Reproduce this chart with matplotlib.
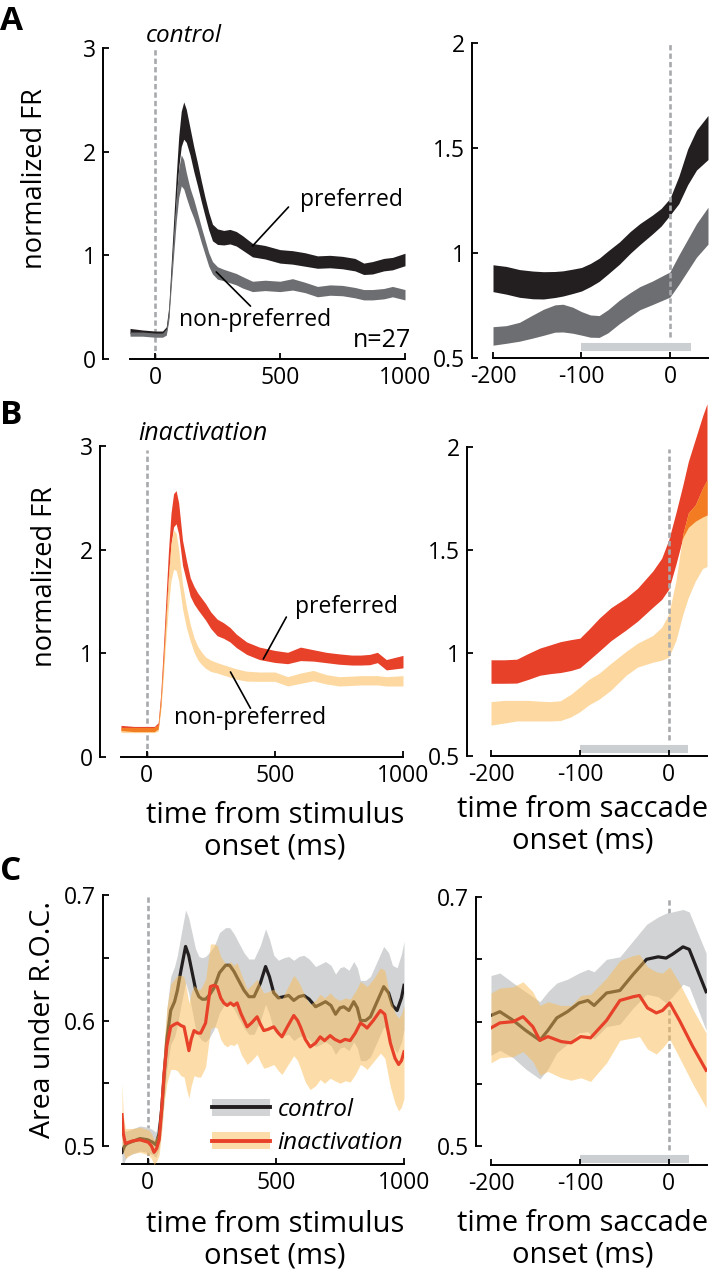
import numpy as np
import matplotlib
matplotlib.use('Agg')
import matplotlib.pyplot as plt
from matplotlib.patches import Patch
from matplotlib.lines import Line2D

plt.rcParams['font.family'] = ['Open Sans', 'DejaVu Sans']

# ---------------- data ----------------
# Panel A, aligned to stimulus onset (control)
tA = [-100, -50, 0, 30, 45, 55, 65, 75, 85, 95, 105, 115, 125, 140, 155, 170, 185, 200, 215, 230,
      250, 275, 300, 325, 350, 390, 440, 500, 550, 600, 650, 700, 750, 800, 835, 870, 915, 950, 1000]
prefA_mean = [0.27, 0.26, 0.25, 0.25, 0.28, 0.45, 0.85, 1.25, 1.65, 2.0, 2.22, 2.3, 2.25, 2.1, 1.93, 1.78, 1.62, 1.47, 1.33, 1.22,
              1.18, 1.17, 1.18, 1.16, 1.12, 1.05, 1.03, 0.99, 0.98, 0.96, 0.935, 0.94, 0.93, 0.91, 0.87, 0.88, 0.91, 0.92, 0.96]
prefA_hw = [0.025, 0.02, 0.02, 0.02, 0.03, 0.05, 0.08, 0.1, 0.12, 0.15, 0.17, 0.18, 0.16, 0.13, 0.12, 0.11, 0.1, 0.09, 0.085, 0.08,
            0.075, 0.07, 0.07, 0.07, 0.07, 0.065, 0.065, 0.065, 0.065, 0.065, 0.06, 0.06, 0.06, 0.06, 0.055, 0.06, 0.06, 0.06, 0.06]
nonprefA_mean = [0.24, 0.24, 0.23, 0.23, 0.26, 0.42, 0.78, 1.12, 1.45, 1.7, 1.82, 1.78, 1.68, 1.55, 1.45, 1.33, 1.2, 1.08, 0.96, 0.88,
                 0.83, 0.81, 0.79, 0.77, 0.74, 0.70, 0.71, 0.70, 0.72, 0.69, 0.65, 0.665, 0.66, 0.64, 0.62, 0.62, 0.63, 0.65, 0.62]
nonprefA_hw = [0.02, 0.02, 0.02, 0.02, 0.03, 0.05, 0.08, 0.1, 0.12, 0.14, 0.15, 0.14, 0.12, 0.1, 0.09, 0.08, 0.075, 0.07, 0.065, 0.06,
               0.06, 0.055, 0.055, 0.055, 0.055, 0.05, 0.05, 0.05, 0.055, 0.05, 0.05, 0.05, 0.05, 0.05, 0.05, 0.05, 0.05, 0.05, 0.05]

# Panel A, aligned to saccade onset (control)
tAR = [-200, -185, -170, -155, -143, -130, -121, -110, -100, -90, -80, -70, -57, -45, -34, -20, -10, 0, 10, 20, 30, 43]
prefAR_mean = [0.88, 0.87, 0.855, 0.848, 0.846, 0.85, 0.855, 0.865, 0.875, 0.895, 0.92, 0.955, 1.0, 1.05, 1.09, 1.135, 1.17, 1.22,
               1.3, 1.41, 1.49, 1.55]
prefAR_hw = [0.064, 0.066, 0.066, 0.066, 0.065, 0.062, 0.06, 0.058, 0.056, 0.055, 0.055, 0.055, 0.053, 0.052, 0.05, 0.045, 0.042, 0.04,
             0.065, 0.085, 0.095, 0.105]
nonprefAR_mean = [0.605, 0.612, 0.625, 0.65, 0.67, 0.688, 0.69, 0.68, 0.665, 0.652, 0.65, 0.675, 0.72, 0.755, 0.785, 0.81, 0.83, 0.85,
                  0.92, 0.99, 1.06, 1.13]
nonprefAR_hw = [0.044, 0.042, 0.045, 0.055, 0.062, 0.065, 0.066, 0.062, 0.056, 0.053, 0.052, 0.055, 0.056, 0.056, 0.055, 0.056, 0.058,
                0.06, 0.07, 0.075, 0.08, 0.088]

# Panel B, aligned to stimulus onset (inactivation)
tB = [-100, -50, 0, 30, 45, 55, 65, 75, 85, 95, 105, 115, 125, 140, 155, 170, 185, 200, 215, 230,
      250, 275, 300, 325, 350, 390, 440, 500, 550, 600, 650, 700, 750, 800, 835, 870, 900, 935, 1000]
prefB_mean = [0.28, 0.27, 0.27, 0.27, 0.3, 0.55, 0.95, 1.4, 1.85, 2.2, 2.38, 2.41, 2.3, 1.97, 1.8, 1.64, 1.56, 1.5, 1.45, 1.4,
              1.32, 1.25, 1.22, 1.18, 1.12, 1.05, 1.0, 0.97, 0.955, 0.995, 0.98, 0.96, 0.945, 0.935, 0.935, 0.94, 0.96, 0.89, 0.92]
prefB_hw = [0.025, 0.025, 0.025, 0.025, 0.03, 0.06, 0.09, 0.11, 0.13, 0.15, 0.16, 0.16, 0.15, 0.12, 0.1, 0.09, 0.085, 0.08, 0.08, 0.08,
            0.08, 0.08, 0.075, 0.07, 0.065, 0.06, 0.06, 0.058, 0.055, 0.065, 0.055, 0.05, 0.05, 0.048, 0.048, 0.05, 0.05, 0.05, 0.06]
nonprefB_mean = [0.26, 0.26, 0.26, 0.26, 0.28, 0.5, 0.85, 1.25, 1.6, 1.88, 2.0, 1.98, 1.85, 1.55, 1.35, 1.2, 1.08, 1.0, 0.95, 0.91,
                 0.88, 0.86, 0.84, 0.82, 0.8, 0.78, 0.775, 0.775, 0.73, 0.76, 0.785, 0.75, 0.73, 0.735, 0.74, 0.74, 0.74, 0.73, 0.735]
nonprefB_hw = [0.025, 0.025, 0.025, 0.025, 0.03, 0.06, 0.09, 0.12, 0.15, 0.18, 0.19, 0.18, 0.15, 0.12, 0.1, 0.08, 0.07, 0.065, 0.06, 0.055,
               0.055, 0.05, 0.05, 0.05, 0.05, 0.048, 0.045, 0.045, 0.045, 0.05, 0.05, 0.045, 0.045, 0.045, 0.045, 0.045, 0.045, 0.045, 0.05]

# Panel B, aligned to saccade onset (inactivation)
tBR = [-200, -185, -171, -158, -145, -133, -122, -110, -100, -90, -78, -65, -48, -35, -18, -8, 0, 8, 16, 22, 30, 38, 43]
prefBR_mean = [0.91, 0.91, 0.912, 0.935, 0.958, 0.97, 0.98, 0.99, 1.0, 1.04, 1.09, 1.14, 1.19, 1.235, 1.31, 1.36, 1.43, 1.555, 1.69,
               1.77, 1.84, 1.905, 1.94]
prefBR_hw = [0.057, 0.057, 0.058, 0.063, 0.066, 0.07, 0.075, 0.075, 0.072, 0.075, 0.08, 0.08, 0.078, 0.08, 0.088, 0.1, 0.12, 0.125,
             0.128, 0.16, 0.2, 0.245, 0.27]
nonprefBR_mean = [0.707, 0.715, 0.72, 0.72, 0.718, 0.717, 0.72, 0.745, 0.775, 0.81, 0.84, 0.885, 0.95, 0.99, 1.02, 1.045, 1.085,
                  1.205, 1.385, 1.475, 1.535, 1.605, 1.63]
nonprefBR_hw = [0.057, 0.055, 0.05, 0.05, 0.048, 0.047, 0.048, 0.055, 0.06, 0.062, 0.063, 0.065, 0.058, 0.058, 0.065, 0.08, 0.105,
                0.145, 0.195, 0.205, 0.185, 0.195, 0.21]

# Panel C, area under ROC, aligned to stimulus onset
tC_ctrl = [-100, -90, -80, -55, -30, 0, 20, 32, 45, 55, 64, 75, 90, 105, 116, 130, 148, 160, 174, 187,
           200, 213, 226, 240, 259, 280, 304, 320, 337, 355, 376, 395, 415, 440, 460, 475, 492, 510, 531, 550,
           570, 590, 609, 630, 655, 675, 694, 715, 733, 750, 765, 785, 804, 818, 830, 850, 869, 895, 921, 940,
           955, 973, 990, 1000]
ctrl_mean = [0.495, 0.5, 0.502, 0.504, 0.506, 0.505, 0.503, 0.501, 0.51, 0.53, 0.555, 0.585, 0.608, 0.615, 0.624, 0.64, 0.659, 0.652, 0.638, 0.625,
             0.619, 0.617, 0.617, 0.62, 0.626, 0.638, 0.644, 0.644, 0.639, 0.632, 0.624, 0.619, 0.619, 0.63, 0.643, 0.635, 0.622, 0.618, 0.619, 0.62,
             0.616, 0.619, 0.62, 0.617, 0.611, 0.613, 0.615, 0.612, 0.605, 0.61, 0.611, 0.608, 0.615, 0.61, 0.6, 0.6, 0.603, 0.615, 0.627, 0.622,
             0.612, 0.608, 0.618, 0.628]
ctrl_hw = [0.022, 0.012, 0.01, 0.01, 0.01, 0.01, 0.01, 0.01, 0.012, 0.016,
           0.02, 0.024, 0.027, 0.028, 0.028, 0.028, 0.029, 0.03, 0.031, 0.032,
           0.032, 0.033, 0.034, 0.034, 0.033, 0.032, 0.03, 0.03, 0.03, 0.03,
           0.03, 0.03, 0.03, 0.03, 0.03, 0.03, 0.03, 0.03, 0.031, 0.031,
           0.032, 0.032, 0.032, 0.032, 0.032, 0.032, 0.032, 0.032, 0.032, 0.032,
           0.032, 0.032, 0.032, 0.032, 0.032, 0.032, 0.032, 0.032, 0.032, 0.032,
           0.032, 0.034, 0.035, 0.035]
tC_inact = [-100, -95, -87, -60, -30, 3, 15, 25, 35, 45, 55, 64, 75, 90, 105, 116, 130, 142, 152, 161,
            170, 181, 195, 207, 226, 245, 258, 271, 285, 297, 310, 323, 336, 349, 365, 388, 405, 427, 440, 453,
            470, 492, 510, 524, 545, 570, 585, 596, 615, 634, 655, 673, 690, 712, 730, 751, 770, 790, 810, 830,
            845, 856, 880, 908, 925, 947, 965, 979, 990, 1000]
inact_mean = [0.525, 0.51, 0.502, 0.504, 0.505, 0.503, 0.5, 0.495, 0.498, 0.505,
              0.53, 0.558, 0.58, 0.595, 0.597, 0.598, 0.596, 0.595, 0.585, 0.576,
              0.585, 0.592, 0.59, 0.59, 0.598, 0.627, 0.628, 0.627, 0.618, 0.614,
              0.612, 0.614, 0.612, 0.614, 0.605, 0.595, 0.598, 0.603, 0.597, 0.592,
              0.593, 0.595, 0.59, 0.587, 0.595, 0.604, 0.6, 0.595, 0.585, 0.579,
              0.582, 0.587, 0.584, 0.588, 0.585, 0.583, 0.585, 0.584, 0.59, 0.598,
              0.596, 0.594, 0.6, 0.608, 0.605, 0.582, 0.57, 0.565, 0.568, 0.575]
inact_hw = [0.025, 0.015, 0.012, 0.01, 0.01, 0.01, 0.01, 0.01, 0.01, 0.012,
            0.018, 0.024, 0.03, 0.034, 0.036, 0.038, 0.04, 0.04, 0.04, 0.038,
            0.037, 0.036, 0.035, 0.035, 0.035, 0.034, 0.033, 0.033, 0.033, 0.033,
            0.033, 0.033, 0.032, 0.032, 0.032, 0.03, 0.03, 0.03, 0.03, 0.03,
            0.03, 0.03, 0.03, 0.03, 0.031, 0.032, 0.032, 0.033, 0.034, 0.034,
            0.034, 0.034, 0.034, 0.034, 0.033, 0.033, 0.033, 0.033, 0.033, 0.033,
            0.033, 0.033, 0.033, 0.034, 0.035, 0.035, 0.036, 0.037, 0.037, 0.037]

# Panel C, aligned to saccade onset
tCR_ctrl = [-200, -190, -175, -161, -145, -136, -126, -114, -101, -91, -84, -70, -55, -40, -25, -12, -3, 4, 16, 23, 42]
ctrlR_mean = [0.605, 0.608, 0.601, 0.593, 0.585, 0.593, 0.603, 0.608, 0.615, 0.617, 0.613, 0.623, 0.625, 0.638, 0.65, 0.652,
              0.651, 0.654, 0.66, 0.658, 0.624]
ctrlR_hw = [0.032, 0.031, 0.03, 0.031, 0.031, 0.031, 0.028, 0.026, 0.024, 0.025, 0.027, 0.027, 0.027, 0.027, 0.028, 0.032,
            0.036, 0.034, 0.03, 0.03, 0.031]
tCR_inact = [-200, -190, -175, -164, -153, -145, -136, -121, -110, -99, -88, -70, -55, -40, -33, -24, -14, -7, 1, 12, 27, 42]
inactR_mean = [0.595, 0.599, 0.6, 0.604, 0.596, 0.585, 0.588, 0.584, 0.583, 0.588, 0.587, 0.601, 0.617, 0.62, 0.621, 0.611,
               0.607, 0.609, 0.615, 0.601, 0.58, 0.561]
inactR_hw = [0.028, 0.028, 0.028, 0.028, 0.028, 0.028, 0.028, 0.029, 0.03, 0.033, 0.035, 0.034, 0.032, 0.033, 0.033, 0.033,
             0.033, 0.03, 0.029, 0.03, 0.03, 0.03]

# tick labels
stim_ticks = [0, 500, 1000]
stim_ticklabels = ['0', '500', '1000']
sacc_ticks = [-200, -100, 0]
sacc_ticklabels = ['-200', '-100', '0']
fr_stim_yticks = [0, 1, 2, 3]
fr_stim_ylabels = ['0', '1', '2', '3']
fr_sacc_yticks = [0.5, 1, 1.5, 2]
fr_sacc_ylabels = ['0.5', '1', '1.5', '2']
roc_yticks = [0.5, 0.55, 0.6, 0.65, 0.7]
roc_left_labels = ['0.5', '', '0.6', '', '0.7']
roc_right_labels = ['0.5', '', '', '', '0.7']

# ---------------- colours ----------------
C_PREF = '#231f20'
C_NONPREF = '#6d6e71'
C_IPREF = '#e8412a'
C_INONPREF = '#fdd9a1'
C_OVERLAP = '#f37b21'
C_DASH = '#a7a9ac'
C_BAR = '#cbcfd1'
C_CBAND = '#d1d3d4'
C_IBAND = '#fbbd55'
A_IBAND = 0.5

TICK_FS = 16.5
LABEL_FS = 21

W, H = 712, 1280
fig = plt.figure(figsize=(W / 100, H / 100), dpi=100)


def rect(x0, x1, ytop, ybot):
    return [x0 / W, 1 - ybot / H, (x1 - x0) / W, (ybot - ytop) / H]


def style(ax, xlim, ylim, ybounds, xticks, xtl, yticks, ytl, off):
    ax.set_xlim(*xlim)
    ax.set_ylim(*ylim)
    for s in ['top', 'right']:
        ax.spines[s].set_visible(False)
    ax.spines['left'].set_position(('outward', off * 0.72))
    ax.spines['left'].set_bounds(*ybounds)
    ax.spines['bottom'].set_bounds(*xlim)
    for s in ['left', 'bottom']:
        ax.spines[s].set_linewidth(1.4)
    ax.set_xticks(xticks)
    ax.set_xticklabels(xtl)
    ax.set_yticks(yticks)
    ax.set_yticklabels(ytl)
    ax.tick_params(direction='in', length=4, width=1.3, labelsize=TICK_FS, pad=5)
    ax.patch.set_alpha(0)


def band(ax, t, m, h, color, z, alpha=1.0):
    t = np.asarray(t); m = np.asarray(m); h = np.asarray(h)
    ax.fill_between(t, m - h, m + h, color=color, lw=0, zorder=z, alpha=alpha)


def overlap(ax, t, m1, h1, m2, h2, color, z):
    t = np.asarray(t)
    lo = np.maximum(np.asarray(m1) - np.asarray(h1), np.asarray(m2) - np.asarray(h2))
    hi = np.minimum(np.asarray(m1) + np.asarray(h1), np.asarray(m2) + np.asarray(h2))
    ax.fill_between(t, lo, hi, where=hi > lo, interpolate=True, color=color, lw=0, zorder=z)


dash_kw = dict(color=C_DASH, lw=1.9, linestyle=(0, (2.0, 1.2)), zorder=0.5)
ann_kw = dict(arrowprops=dict(arrowstyle='-', lw=1.2, color='black', shrinkA=0, shrinkB=0))

# ---------------- Panel A left ----------------
ax = fig.add_axes(rect(130, 405, 48, 359))
band(ax, tA, prefA_mean, prefA_hw, C_PREF, 2)
band(ax, tA, nonprefA_mean, nonprefA_hw, C_NONPREF, 3)
ax.axvline(0, 0, 1, **dash_kw)
style(ax, (-100, 1000), (0, 3), (0, 3), stim_ticks, stim_ticklabels, fr_stim_yticks, fr_stim_ylabels, 27)
ax.annotate('', xy=(390, 1.09), xytext=(534, 1.466), **ann_kw)
ax.text(787, 1.53, 'preferred', fontsize=16.5, ha='center', va='center')
ax.annotate('', xy=(382, 0.51), xytext=(245, 0.84), **ann_kw)
ax.text(402, 0.376, 'non-preferred', fontsize=16.5, ha='center', va='center')
ax.text(908, 0.18, 'n=27', fontsize=18, ha='center', va='center')

# ---------------- Panel A right ----------------
ax = fig.add_axes(rect(493, 708, 43, 358))
band(ax, tAR, prefAR_mean, prefAR_hw, C_PREF, 2)
band(ax, tAR, nonprefAR_mean, nonprefAR_hw, C_NONPREF, 3)
ax.axvline(0, (0.6 - 0.5) / 1.5, 1, **dash_kw)
ax.get_lines()[0].set_zorder(4)
ax.hlines(0.551, -100, 24, color=C_BAR, lw=5.8, zorder=1)
style(ax, (-200, 43), (0.5, 2.0), (0.5, 2.0), sacc_ticks, sacc_ticklabels, fr_sacc_yticks, fr_sacc_ylabels, 21)

# ---------------- Panel B left ----------------
ax = fig.add_axes(rect(121, 403, 446, 757))
band(ax, tB, prefB_mean, prefB_hw, C_IPREF, 2)
band(ax, tB, nonprefB_mean, nonprefB_hw, C_INONPREF, 3)
overlap(ax, tB, prefB_mean, prefB_hw, nonprefB_mean, nonprefB_hw, C_OVERLAP, 4)
ax.axvline(0, 0, 2.96 / 3, **dash_kw)
style(ax, (-100, 1000), (0, 3), (0, 3), stim_ticks, stim_ticklabels, fr_stim_yticks, fr_stim_ylabels, 21)
ax.annotate('', xy=(455, 0.945), xytext=(545, 1.35), **ann_kw)
ax.text(778, 1.446, 'preferred', fontsize=16.5, ha='center', va='center')
ax.annotate('', xy=(405, 0.47), xytext=(327, 0.82), **ann_kw)
ax.text(405, 0.376, 'non-preferred', fontsize=16.5, ha='center', va='center')

# ---------------- Panel B right ----------------
ax = fig.add_axes(rect(491, 707, 395.5, 756))
band(ax, tBR, prefBR_mean, prefBR_hw, C_IPREF, 2)
band(ax, tBR, nonprefBR_mean, nonprefBR_hw, C_INONPREF, 3)
overlap(ax, tBR, prefBR_mean, prefBR_hw, nonprefBR_mean, nonprefBR_hw, C_OVERLAP, 4)
ax.axvline(0, (0.578 - 0.5) / 1.75, (1.99 - 0.5) / 1.75, **dash_kw)
ax.get_lines()[0].set_zorder(5)
ax.hlines(0.534, -100, 22, color=C_BAR, lw=5.8, zorder=1)
style(ax, (-200, 43), (0.5, 2.25), (0.5, 2.0), sacc_ticks, sacc_ticklabels, fr_sacc_yticks, fr_sacc_ylabels, 24)

# ---------------- Panel C left ----------------
ax = fig.add_axes(rect(122, 404, 895, 1164))
band(ax, tC_ctrl, ctrl_mean, ctrl_hw, C_CBAND, 1)
ax.plot(tC_ctrl, ctrl_mean, color=C_PREF, lw=2.3, zorder=2)
band(ax, tC_inact, inact_mean, inact_hw, C_IBAND, 3, alpha=A_IBAND)
ax.plot(tC_inact, inact_mean, color=C_IPREF, lw=2.3, zorder=4)
ax.axvline(0, 0, 1, **dash_kw)
style(ax, (-100, 1000), (0.4857, 0.7), (0.5, 0.7), stim_ticks, stim_ticklabels, roc_yticks, roc_left_labels, 19)
h_ctrl = (Patch(facecolor=C_CBAND, edgecolor='none'), Line2D([], [], color=C_PREF, lw=2.8))
h_inact = (Patch(facecolor=C_IBAND, alpha=A_IBAND, edgecolor='none'), Line2D([], [], color=C_IPREF, lw=2.8))
leg = ax.legend([h_ctrl, h_inact], ['control', 'inactivation'], loc='upper left',
                bbox_to_anchor=(212 / W, 1 - 1098 / H), bbox_transform=fig.transFigure,
                frameon=False, borderpad=0, borderaxespad=0, handlelength=2.4, handleheight=0.7,
                handletextpad=0.3, labelspacing=0.38, prop=dict(size=17.5, style='italic'))

# ---------------- Panel C right ----------------
ax = fig.add_axes(rect(491, 707, 897, 1165))
band(ax, tCR_ctrl, ctrlR_mean, ctrlR_hw, C_CBAND, 1)
ax.plot(tCR_ctrl, ctrlR_mean, color=C_PREF, lw=2.3, zorder=2)
band(ax, tCR_inact, inactR_mean, inactR_hw, C_IBAND, 3, alpha=A_IBAND)
ax.plot(tCR_inact, inactR_mean, color=C_IPREF, lw=2.3, zorder=4)
ax.axvline(0, (0.497 - 0.485) / 0.215, 1, **dash_kw)
ax.hlines(0.49, -100, 22.5, color=C_BAR, lw=5.8, zorder=1)
style(ax, (-200, 43), (0.485, 0.7), (0.5, 0.7), sacc_ticks, sacc_ticklabels, roc_yticks, roc_right_labels, 15)

# ---------------- figure texts ----------------
def ftext(x, y, s, **kw):
    fig.text(x / W, 1 - y / H, s, **kw)

ftext(0, 22, 'A', fontsize=24, fontweight='bold', ha='left', va='center')
ftext(0, 416, 'B', fontsize=24, fontweight='bold', ha='left', va='center')
ftext(0, 871, 'C', fontsize=24, fontweight='bold', ha='left', va='center')
ftext(184, 36, 'control', fontsize=17.5, style='italic', ha='center', va='center')
ftext(203, 433, 'inactivation', fontsize=18, style='italic', ha='center', va='center')
ftext(35, 179, 'normalized FR', fontsize=19.5, rotation=90, ha='center', va='center')
ftext(45, 577, 'normalized FR', fontsize=19.5, rotation=90, ha='center', va='center')
ftext(43, 1020, 'Area under R.O.C.', fontsize=20.5, rotation=90, ha='center', va='center')
ftext(275, 831, 'time from stimulus\nonset (ms)', fontsize=LABEL_FS, ha='center', va='center', linespacing=1.12)
ftext(583, 825, 'time from saccade\nonset (ms)', fontsize=LABEL_FS, ha='center', va='center', linespacing=1.12)
ftext(275, 1240, 'time from stimulus\nonset (ms)', fontsize=LABEL_FS, ha='center', va='center', linespacing=1.12)
ftext(583, 1239, 'time from saccade\nonset (ms)', fontsize=LABEL_FS, ha='center', va='center', linespacing=1.12)

fig.savefig('out.png', dpi=100)
